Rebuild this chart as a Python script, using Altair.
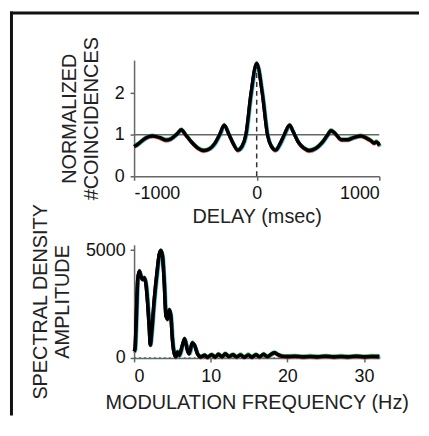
import altair as alt
import pandas as pd

# ---- Top panel: normalized coincidences vs delay ----
delay_ms = [-1000, -975, -950, -900, -850, -790, -740, -700, -650, -615, -580,
            -530, -480, -430, -385, -340, -300, -265, -225, -190, -155, -120,
            -88, -46, 0, 46, 88, 120, 155, 190, 225, 268, 300, 340, 385, 430,
            480, 530, 575, 605, 640, 690, 740, 790, 850, 890, 930, 960, 975,
            990, 1000]
coinc = [0.72, 0.76, 0.82, 0.93, 0.97, 0.93, 0.87, 0.90, 1.02, 1.12, 1.00,
         0.82, 0.68, 0.62, 0.66, 0.80, 1.02, 1.23, 1.00, 0.78, 0.63, 0.72,
         1.00, 2.00, 2.72, 2.00, 1.00, 0.72, 0.63, 0.78, 1.00, 1.23, 1.06,
         0.82, 0.68, 0.62, 0.67, 0.80, 0.98, 1.10, 1.03, 0.88, 0.88, 0.93,
         0.97, 0.93, 0.86, 0.80, 0.83, 0.80, 0.74]
ref_level = [1.0]
zero_delay = [0]
dash_top = [2.75]
delay_ticks = [-1000, 0, 1000]
coinc_ticks = [0, 1, 2]

# ---- Bottom panel: spectral density amplitude vs modulation frequency ----
freq_hz = [0, 0.13, 0.26, 0.48, 0.69, 0.9, 1.13, 1.34, 1.56, 1.77, 1.99, 2.12,
           2.3, 2.64, 2.99, 3.29, 3.5, 3.72, 3.94, 4.16, 4.37, 4.59, 4.8, 5.0,
           5.2, 5.45, 5.67, 5.9, 6.3, 6.6, 6.97, 7.19, 7.6, 7.9, 8.27, 8.7,
           9.2, 9.6, 10.1, 10.6, 11.0, 11.5, 11.9, 12.4, 12.9, 13.4, 13.9,
           14.4, 14.9, 15.4, 15.9, 16.4, 16.9, 17.4, 17.9, 18.3, 18.8, 19.3,
           20, 21, 22, 23, 24, 25, 26, 27, 28, 29, 30, 31, 32]
amp = [300, 430, 1500, 3640, 4030, 3790, 3640, 3720, 3410, 2570, 1350, 600,
       1190, 2720, 3950, 4800, 4980, 4710, 3490, 1960, 1800, 2230, 1960, 890,
       280, 50, 280, 120, 580, 890, 350, 200, 700, 580, 200, 50,
       120, 30, 150, 40, 170, 50, 190, 60, 150, 50, 140,
       40, 140, 40, 150, 50, 170, 60, 170, 240, 150, 80,
       60, 80, 50, 70, 50, 80, 50, 70, 50, 80, 50, 70, 60]
freq_ticks = [0, 10, 20, 30]
amp_ticks = [0, 5000]

# faint coloured traces peeking out from under the black curve
fringe_colors = ["#e8423a", "#2fb24a", "#28b8d8"]
fringe_offsets = [(0.0, 1.6), (0.0, -1.6), (1.5, 0.8)]

FONT = "Liberation Sans"

top_df = pd.DataFrame({"delay": delay_ms, "coinc": coinc})
bot_df = pd.DataFrame({"freq": freq_hz, "amp": amp})

axis_common = dict(domainColor="#666", domainWidth=1.5, tickColor="#666",
                   tickWidth=1.5, tickSize=4, labelFont=FONT, labelFontSize=18,
                   labelColor="#111", titleFont=FONT, titleFontSize=20,
                   titleFontWeight="normal", titleColor="#222", grid=False,
                   labelExpr="'' + datum.value")

x_top = alt.X("delay:Q", scale=alt.Scale(domain=[-1000, 1000], nice=False),
              axis=alt.Axis(values=delay_ticks, title="DELAY (msec)",
                            labelPadding=4, titlePadding=5, **axis_common))
y_top = alt.Y("coinc:Q", scale=alt.Scale(domain=[0, 2.8], nice=False),
              axis=alt.Axis(values=coinc_ticks, title=["NORMALIZED", "#COINCIDENCES"],
                            labelPadding=6, titlePadding=13, titleLineHeight=22,
                            **axis_common))

frame_df = pd.DataFrame({"k": [0]})
frame_v = alt.Chart(frame_df).mark_rule(color="#111", strokeWidth=3).encode(
    x=alt.value(-123.5), y=alt.value(-49), y2=alt.value(358))
frame_h = alt.Chart(frame_df).mark_rule(color="#111", strokeWidth=3).encode(
    x=alt.value(-125), x2=alt.value(287), y=alt.value(-47.5))

level_rule = alt.Chart(pd.DataFrame({"coinc": ref_level})).mark_rule(
    color="#666", strokeWidth=1.5).encode(y="coinc:Q")
dash_rule = alt.Chart(pd.DataFrame({"delay": zero_delay, "coinc": [0], "c2": dash_top})).mark_rule(
    color="#333", strokeWidth=1.5, strokeDash=[5, 4]).encode(
    x="delay:Q", y="coinc:Q", y2="c2:Q")

top_fringes = [
    alt.Chart(top_df).mark_line(color=c, strokeWidth=2, opacity=0.8,
                                interpolate="monotone", xOffset=ox, yOffset=oy)
    .encode(x="delay:Q", y="coinc:Q")
    for c, (ox, oy) in zip(fringe_colors, fringe_offsets)
]
line_top = alt.Chart(top_df).mark_line(color="black", strokeWidth=3.4,
                                       interpolate="monotone").encode(x=x_top, y=y_top)

top = alt.layer(line_top, *top_fringes, level_rule, dash_rule, line_top,
                frame_v, frame_h).properties(width=247, height=117)

x_bot = alt.X("freq:Q", scale=alt.Scale(domain=[0, 32], nice=False),
              axis=alt.Axis(values=freq_ticks, title="MODULATION FREQUENCY (Hz)",
                            labelPadding=6, titlePadding=7, **axis_common))
y_bot = alt.Y("amp:Q", scale=alt.Scale(domain=[0, 5250], nice=False),
              axis=alt.Axis(values=amp_ticks, title=["SPECTRAL DENSITY", "AMPLITUDE"],
                            labelPadding=5, titlePadding=13, titleLineHeight=22,
                            **axis_common))

base_rule = alt.Chart(pd.DataFrame({"freq": [0], "f2": [32], "amp": [0]})).mark_rule(
    color="#3a7a55", strokeWidth=1.5, strokeDash=[2, 3]).encode(
    x="freq:Q", x2="f2:Q", y="amp:Q")
bot_fringes = [
    alt.Chart(bot_df).mark_line(color=c, strokeWidth=2, opacity=0.8,
                                interpolate="monotone", xOffset=ox, yOffset=oy)
    .encode(x="freq:Q", y="amp:Q")
    for c, (ox, oy) in zip(fringe_colors, fringe_offsets)
]
line_bot = alt.Chart(bot_df).mark_line(color="black", strokeWidth=3.6,
                                       interpolate="monotone").encode(x=x_bot, y=y_bot)

bottom = alt.layer(line_bot, base_rule, *bot_fringes, line_bot).properties(
    width=247, height=114)

chart = alt.vconcat(top, bottom, spacing=69, bounds="flush").properties(
    padding={"left": 0, "top": 0, "right": 0, "bottom": 0}
).configure(background="white", view=alt.ViewConfig(stroke=None))

chart.save("out.html", embed_options={"renderer": "svg", "actions": False})
